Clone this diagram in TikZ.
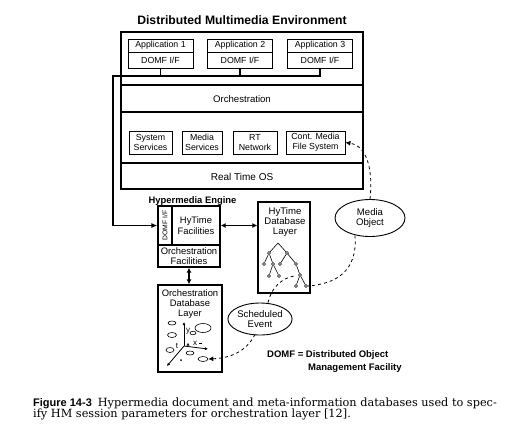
\documentclass[tikz,border=0pt]{standalone}
\usepackage{fontspec}
\setmainfont{DejaVu Serif}
\setsansfont{Liberation Sans}
\usetikzlibrary{arrows.meta,shapes.geometric}
\tikzset{
  box/.style={draw, line width=0.9pt, inner sep=0pt, font=\sffamily\fontsize{8.8}{9.8}\selectfont, align=center},
  bigbox/.style={draw, line width=1.3pt, inner sep=0pt},
  lbl/.style={inner sep=0pt, font=\sffamily\fontsize{9.6}{10.4}\selectfont, align=center},
  blbl/.style={inner sep=0pt, font=\sffamily\bfseries\fontsize{9.4}{10}\selectfont, align=center},
  conn/.style={line width=1.1pt},
  dbl/.style={line width=1.3pt, {Latex[length=5pt,width=5pt]}-{Latex[length=5pt,width=5pt]}},
  dashln/.style={dash pattern=on 3pt off 3pt, line width=0.8pt},
  oval/.style={draw, ellipse, line width=0.9pt, inner sep=0pt, font=\sffamily\fontsize{9.6}{10.6}\selectfont, align=center},
  tn/.style={draw, circle, inner sep=0pt, minimum size=3pt, line width=0.6pt},
  sm/.style={draw, ellipse, inner sep=0pt, line width=0.6pt},
}
\begin{document}
\begin{tikzpicture}[x=1pt,y=-1pt]
\useasboundingbox (0,0) rectangle (518,445);
% title
\node[inner sep=0pt, font=\sffamily\bfseries\fontsize{12.2}{14}\selectfont] (title) at (242,20) {Distributed Multimedia Environment};
% environment box
\node[bigbox, minimum width=242pt, minimum height=157pt] (env) at (242,110.5) {};
\draw[line width=1.3pt] (env.west |- 0,85) -- (env.east |- 0,85);
\draw[line width=1.3pt] (env.west |- 0,112) -- (env.east |- 0,112);
\draw[line width=1.3pt] (env.west |- 0,163) -- (env.east |- 0,163);
\node[lbl] (orch) at (242,99) {Orchestration};
\node[lbl, font=\sffamily\fontsize{10}{11}\selectfont] (rtos) at (242,176.5) {Real Time OS};
% applications
\foreach \i/\x in {1/160.5,2/240,3/320}{
  \node[box, minimum width=65pt, minimum height=13pt] (a\i) at (\x,45.5) {Application \i};
  \node[box, minimum width=65pt, minimum height=16pt] (d\i) at (\x,60) {DOMF I/F};
}
% services
\node[box, minimum width=43pt, minimum height=23pt] (sys) at (150.5,142.5) {System\\Services};
\node[box, minimum width=40pt, minimum height=23pt] (med) at (202,142.5) {Media\\Services};
\node[box, minimum width=44pt, minimum height=23pt] (rt) at (255,142.5) {RT\\Network};
\node[box, minimum width=59pt, minimum height=23pt] (cm) at (315.5,142.5) {Cont. Media\\File System};
% hypermedia engine
\node[blbl] (helbl) at (192.5,201) {Hypermedia Engine};
\node[box, line width=1.3pt, minimum width=14pt, minimum height=39pt] (domf) at (165,225.5) {};
\node[inner sep=0pt, rotate=90, font=\sffamily\fontsize{6.8}{7}\selectfont] (domft) at (domf.center) {DOMF I/F};
\node[box, line width=1.3pt, minimum width=48pt, minimum height=39pt, font=\sffamily\fontsize{9.4}{10.6}\selectfont] (hyf) at (196,225.5) {HyTime\\Facilities};
\node[box, line width=1.3pt, minimum width=62pt, minimum height=22pt, font=\sffamily\fontsize{9.4}{9.8}\selectfont] (orf) at (189,256) {Orchestration\\Facilities};
% hytime database
\node[bigbox, minimum width=52pt, minimum height=91pt] (hdb) at (284,247.5) {};
\node[lbl, font=\sffamily\fontsize{9.6}{10}\selectfont] (hdbt) at (285,222) {HyTime\\Database\\Layer};
% orchestration database
\node[bigbox, minimum width=64pt, minimum height=87pt] (odb) at (190,328.5) {};
\node[lbl, font=\sffamily\fontsize{9.4}{10}\selectfont] (odbt) at (190,304) {Orchestration\\Database\\Layer};
% ellipses
\node[oval, minimum width=70pt, minimum height=37pt] (mo) at (370,218) {Media\\Object};
\node[oval, minimum width=64pt, minimum height=32pt] (se) at (260,319) {Scheduled\\Event};
% bus
\coordinate (busL) at (113,76);
\draw[conn] (d1.south) -- (d1.south |- busL);
\draw[conn] (d2.south) -- (d2.south |- busL);
\draw[conn, -{Latex[length=6pt,width=5pt]}] (d3.south) |- (busL) |- (domf.west);
% double arrows
\draw[dbl] (hyf.east) -- (hyf.east -| hdb.west);
\draw[dbl] (orf.south) -- (orf.south |- odb.north);
% tree
\coordinate (r) at (278,243);
\node[tn] (t1) at (269,253) {};
\node[tn] (t2) at (287,253) {};
\node[tn] (t3) at (264,264) {};
\node[tn] (t4) at (273,264) {};
\node[tn] (t5) at (280,264) {};
\node[tn] (t6) at (296,264) {};
\node[tn] (t7) at (269,276) {};
\node[tn] (t8) at (279,276) {};
\node[tn] (t9) at (300,275) {};
\node[tn] (t10) at (296,286) {};
\node[tn] (t11) at (306,286) {};
\draw[line width=0.6pt] (r) -- (t1) (r) -- (t2) (t1) -- (t3) (t1) -- (t4) (t2) -- (t5) (t2) -- (t6)
  (t4) -- (t7) (t4) -- (t8) (t6) -- (t9) (t9) -- (t10) (t9) -- (t11);
% orchestration db graph
\coordinate (o) at (184,346);
\coordinate (ya) at (184,322);
\coordinate (xa) at (208,349);
\coordinate (ta) at (167,366);
\draw[line width=0.8pt, -{Latex[length=3pt,width=3pt]}] (o) -- (ya);
\draw[line width=0.8pt, -{Latex[length=3pt,width=3pt]}] (o) -- (xa);
\draw[line width=0.8pt, -{Latex[length=3pt,width=3pt]}] (o) -- (ta);
\node[lbl, font=\sffamily\fontsize{8}{8}\selectfont] (ly) at (188,331) {y};
\node[lbl, font=\sffamily\fontsize{8}{8}\selectfont] (lt) at (177,346) {t};
\node[lbl, font=\sffamily\fontsize{8}{8}\selectfont] (lx) at (195,343) {x};
\fill (186.5,345.5) -- (189.5,345.5) -- (188,343) -- cycle;
\draw[line width=0.8pt] (199,343.5) -- (202,343.5);
\fill (181,360) circle (1pt);
\node[sm, minimum width=8pt, minimum height=4pt] (e1) at (172,323) {};
\node[sm, minimum width=16pt, minimum height=9pt] (e2) at (203,328) {};
\node[sm, minimum width=9pt, minimum height=5pt] (e3) at (172,335) {};
\node[sm, minimum width=6pt, minimum height=3.5pt] (e4) at (193,333) {};
\node[sm, minimum width=8pt, minimum height=5pt] (e5) at (170,350) {};
\node[sm, minimum width=8pt, minimum height=4pt] (e6) at (190,353) {};
\node[sm, minimum width=10pt, minimum height=5pt] (e7) at (203,359) {};
% dashed links
\draw[dashln, -{Latex[length=5pt,width=5pt]}] (mo.north) .. controls (373,172) and (368,146) .. (cm.east);
\draw[dashln] (mo.south west) ++(10,4) .. controls (358,272) and (335,284) .. (t11.east);
\draw[dashln] (se.north) ++(8,0) .. controls (271,288) and (282,278) .. (294,276);
\draw[dashln, -{Latex[length=5pt,width=5pt]}] (se.south) ++(-5,-1) .. controls (246,352) and (230,358) .. (e7.east);
% legend
\node[blbl, anchor=base west, font=\sffamily\bfseries\fontsize{9.5}{10}\selectfont] (leg1) at (267,357) {DOMF = Distributed Object};
\node[blbl, anchor=base west, font=\sffamily\bfseries\fontsize{9.5}{10}\selectfont] (leg2) at (308,370) {Management Facility};
% caption
\node[inner sep=0pt, anchor=base west, font=\fontsize{11.3}{12}\selectfont] (cap1) at (33,406)
  {{\sffamily\bfseries\fontsize{11}{12}\selectfont Figure 14-3}\hspace{6pt}Hypermedia document and meta-information databases used to spec-};
\node[inner sep=0pt, anchor=base west, font=\fontsize{11.3}{12}\selectfont] (cap2) at (33,417.5)
  {ify HM session parameters for orchestration layer [12].};
\end{tikzpicture}
\end{document}
